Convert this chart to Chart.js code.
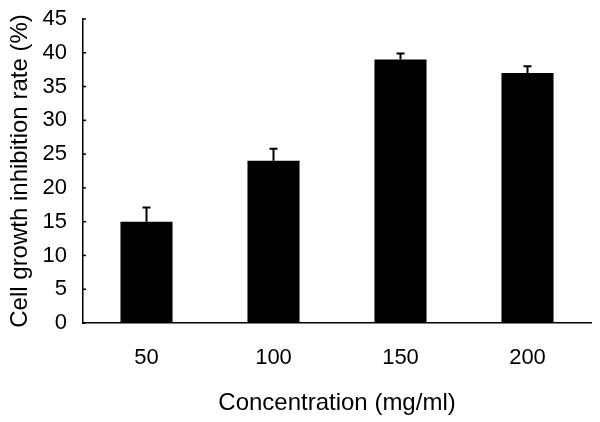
<!DOCTYPE html>
<html>
<head>
<meta charset="utf-8">
<script src="https://cdn.jsdelivr.net/npm/chart.js@4"></script>
<style>
  html, body { margin: 0; padding: 0; background: #fff; }
  #wrap { width: 600px; height: 422px; }
</style>
</head>
<body>
<div id="wrap"><canvas id="myChart" width="600" height="422"></canvas></div>
<script>
var concentrations = ['50', '100', '150', '200'];
var inhibition = [15, 24, 39, 37];
var errUpper = [2.1, 1.8, 0.9, 1.0];
var yTicks = [0, 5, 10, 15, 20, 25, 30, 35, 40, 45];

var font = "'Liberation Sans', Arial, sans-serif";

// upward error bars plus the small inward tick marks on the y axis
var errorBars = {
    id: 'errorBars',
    afterDatasetsDraw: function (chart) {
        var ctx = chart.ctx;
        var meta = chart.getDatasetMeta(0);
        var y = chart.scales.y;
        var left = chart.chartArea.left;
        ctx.save();
        ctx.strokeStyle = '#000';
        ctx.lineWidth = 2;
        meta.data.forEach(function (bar, i) {
            var top = y.getPixelForValue(inhibition[i] + errUpper[i]);
            ctx.beginPath();
            ctx.moveTo(bar.x, bar.y);
            ctx.lineTo(bar.x, top);
            ctx.moveTo(bar.x - 4, top);
            ctx.lineTo(bar.x + 4, top);
            ctx.stroke();
        });
        ctx.lineWidth = 1.5;
        yTicks.forEach(function (v) {
            var py = y.getPixelForValue(v);
            ctx.beginPath();
            ctx.moveTo(left, py);
            ctx.lineTo(left + 3, py);
            ctx.stroke();
        });
        ctx.restore();
    }
};

var ctx = document.getElementById('myChart').getContext('2d');
var myChart = new Chart(ctx, {
    type: 'bar',
    data: {
        labels: concentrations,
        datasets: [{
            data: inhibition,
            backgroundColor: '#000',
            borderWidth: 0,
            categoryPercentage: 1,
            barPercentage: 0.41
        }]
    },
    options: {
        responsive: false,
        animation: false,
        layout: { padding: { top: 0, right: 9, left: 0, bottom: 0 } },
        plugins: { legend: { display: false }, tooltip: { enabled: false } },
        scales: {
            x: {
                grid: { display: false },
                border: { display: true, color: '#000', width: 1.5 },
                ticks: { color: '#000', font: { family: font, size: 22 }, padding: 14 },
                title: {
                    display: true,
                    text: 'Concentration (mg/ml)',
                    color: '#000',
                    font: { family: font, size: 24 },
                    padding: { top: 4, bottom: 4 }
                },
                afterFit: function (scale) { scale.height = 99; }
            },
            y: {
                min: 0,
                max: 45,
                afterBuildTicks: function (scale) {
                    scale.ticks = yTicks.map(function (v) { return { value: v }; });
                },
                grid: { display: false },
                border: { display: true, color: '#000', width: 1.5 },
                ticks: { color: '#000', font: { family: font, size: 22, lineHeight: 1 }, padding: 8 },
                title: {
                    display: true,
                    text: 'Cell growth inhibition rate (%)',
                    color: '#000',
                    font: { family: font, size: 24 },
                    padding: { top: 6, bottom: 6 }
                },
                afterFit: function (scale) { scale.width = 83; }
            }
        }
    },
    plugins: [errorBars]
});
</script>
</body>
</html>
